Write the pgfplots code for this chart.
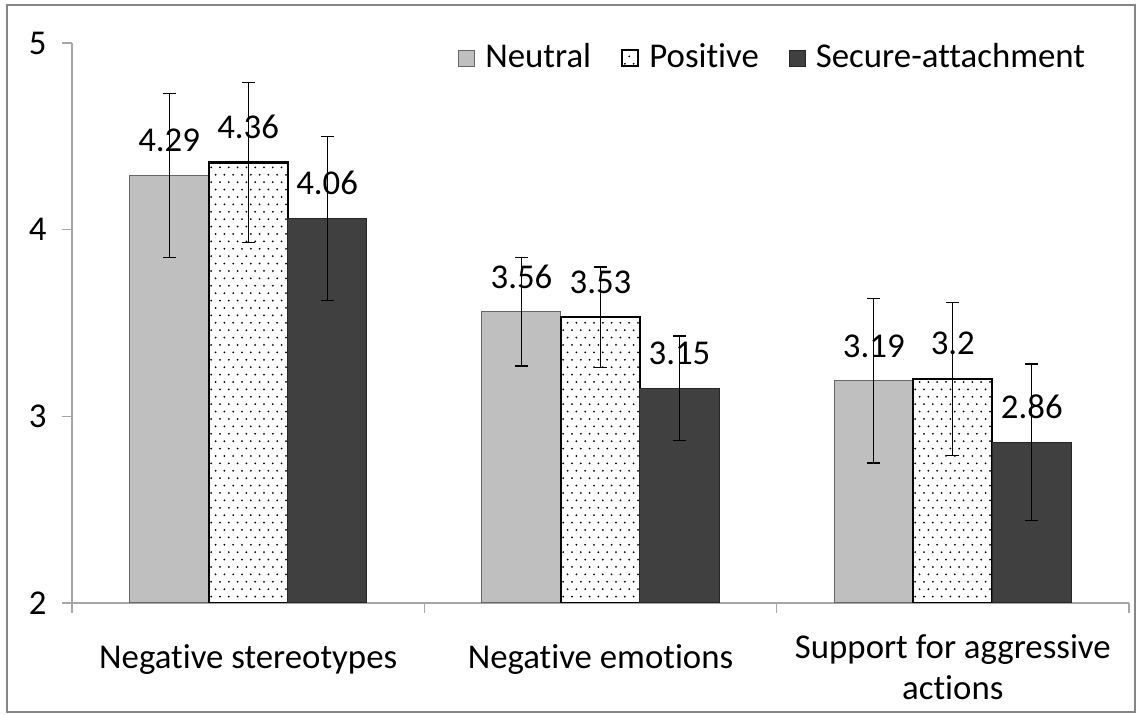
\documentclass[border=0pt]{standalone}
\usepackage{fontspec}
\setmainfont{Carlito}[Ligatures={NoCommon,NoRare,NoContextual}]
\usepackage{pgfplots}
\pgfplotsset{compat=1.18}
\usetikzlibrary{patterns}
\pgfdeclarepatternformonly{mydots}{\pgfqpoint{-1pt}{-1pt}}{\pgfqpoint{5.4pt}{8.4pt}}{\pgfqpoint{4.4pt}{7.4pt}}{%
 \pgfpathcircle{\pgfqpoint{0pt}{0pt}}{0.5pt}\pgfusepath{fill}%
 \pgfpathcircle{\pgfqpoint{2.2pt}{3.7pt}}{0.5pt}\pgfusepath{fill}}
\definecolor{neutralc}{HTML}{BFBFBF}
\definecolor{securec}{HTML}{404040}
\definecolor{axisc}{HTML}{A6A6A6}
\definecolor{framec}{HTML}{868686}
\begin{document}
\fontsize{17.4pt}{20.5pt}\selectfont
\begin{tikzpicture}
\useasboundingbox (0,0) rectangle (571pt,357.5pt);
\draw[framec, line width=1pt] (3.5pt,1.5pt) rectangle (567.5pt,355pt);
\begin{axis}[
  at={(36pt,56pt)}, anchor=south west,
  scale only axis, width=528.5pt, height=280pt,
  xmin=-0.5, xmax=2.5, ymin=2, ymax=5,
  axis x line=bottom, axis y line=left,
  axis line style={-, draw=axisc, line width=0.6pt},
  tick style={draw=axisc, line width=0.6pt},
  tick align=outside, major tick length=5pt,
  ytick={2,3,4,5},
  xtick={-0.5,0.5,1.5,2.5},
  x tick label as interval,
  xticklabels={Negative stereotypes, Negative emotions, {\raisebox{5pt}{\begin{tabular}[t]{@{}c@{}}Support for aggressive\\actions\end{tabular}}}},
  xticklabel style={anchor=base, inner sep=0pt, yshift=-28pt},
  yticklabel style={anchor=east, inner sep=0pt, xshift=-7.5pt},
  /pgf/number format/assume math mode=true,
  ybar, bar width=39.5pt,
  nodes near coords,
  every node near coord/.append style={anchor=south, inner sep=0pt, yshift=11.5pt, black},
  legend columns=-1,
  legend style={draw=none, fill=none, inner sep=0pt, outer sep=0pt,
    at={(axis description cs:0.9584,0.973)}, anchor=east,
    nodes={inner sep=0pt},
    /tikz/every even column/.append style={column sep=15pt}},
  legend image code/.code={\draw[#1] (0pt,-4pt) rectangle (8pt,4pt); \path (13pt,0pt);},
]
\addplot[bar shift=-39.5pt, fill=neutralc, draw=black!60, line width=0.5pt,
  error bars/.cd, y dir=both, y explicit,
  error bar style={black, line width=0.6pt},
  error mark options={rotate=90, mark size=3.25pt, line width=0.6pt, black}]
  coordinates {(0,4.29) +- (0,0.44) (1,3.56) +- (0,0.29) (2,3.19) +- (0,0.44)};
\addlegendentry{Neutral}
\addplot[bar shift=0pt, fill=white, draw=black, line width=1.1pt, postaction={pattern=mydots, pattern color=black},
  error bars/.cd, y dir=both, y explicit,
  error bar style={black, line width=0.6pt},
  error mark options={rotate=90, mark size=3.25pt, line width=0.6pt, black}]
  coordinates {(0,4.36) +- (0,0.43) (1,3.53) +- (0,0.27) (2,3.20) +- (0,0.41)};
\addlegendentry{Positive}
\addplot[bar shift=39.5pt, fill=securec, draw=black!85, line width=0.5pt,
  error bars/.cd, y dir=both, y explicit,
  error bar style={black, line width=0.6pt},
  error mark options={rotate=90, mark size=3.25pt, line width=0.6pt, black}]
  coordinates {(0,4.06) +- (0,0.44) (1,3.15) +- (0,0.28) (2,2.86) +- (0,0.42)};
\addlegendentry{Secure-attachment}
\end{axis}
\end{tikzpicture}
\end{document}
